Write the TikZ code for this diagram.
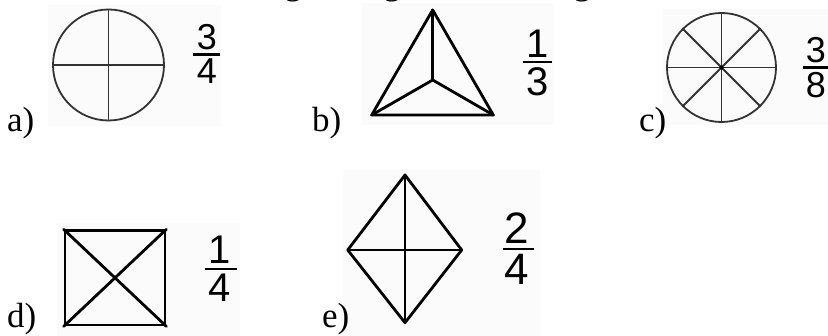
\documentclass[tikz,border=0pt]{standalone}
\usepackage{fontspec}
\setmainfont{Liberation Serif}
\newfontfamily\fracfont{Liberation Sans}
\begin{document}
\begin{tikzpicture}[x=1pt,y=-1pt,
  bgbox/.style={fill=black!1.5, draw=none},
  thin shape/.style={draw=black!80, line width=1.8pt},
  heavy shape/.style={draw=black, line width=2.8pt, line join=round, line cap=round},
  lbl/.style={font=\fontsize{35}{40}\selectfont, anchor=base west, inner sep=0pt},
  digit/.style={inner sep=0pt, font=\fracfont\fontsize{#1}{#1}\selectfont},
  fracbar/.style={draw=black, line width=2.4pt}
]
\useasboundingbox (0,0) rectangle (828,336);
\fill[white] (0,0) rectangle (828,336);

% background panels of the pictures
\fill[bgbox] (48,5) rectangle (221,126);
\fill[bgbox] (362,3) rectangle (554,125);
\fill[bgbox] (663,9) rectangle (828,125);
\fill[bgbox] (57,223) rectangle (240,336);
\fill[bgbox] (343,170) rectangle (540,336);

% cut-off line of text above
\begin{scope}
  \clip (0,0) rectangle (828,336);
  \node[lbl, anchor=base] (g1) at (293,-5) {g};
  \node[lbl, anchor=base] (g2) at (392,-5) {g};
  \node[lbl, anchor=base] (g3) at (582,-5) {g};
\end{scope}

% a) circle in quarters
\node[circle, thin shape, minimum size=111pt, inner sep=0pt] (ca) at (108.5,65) {};
\draw[thin shape] (ca.north) -- (ca.south);
\draw[thin shape] (ca.west) -- (ca.east);
\node[lbl] (la) at (7,132) {a)};
\node[digit=36, anchor=south] (anum) at (207,50) {3};
\node[digit=36, anchor=north] (aden) at (207,59) {4};
\coordinate (abl) at (193,54.5); \coordinate (abr) at (220,54.5);
\draw[fracbar] (abl) -- (abr);

% b) triangle in thirds
\coordinate (bt) at (432.7,10);
\coordinate (bl) at (371.7,115);
\coordinate (br) at (493.3,115);
\coordinate (bc) at (432.7,80);
\draw[heavy shape] (bt) -- (bl) -- (br) -- cycle;
\draw[heavy shape] (bt) -- (bc);
\draw[heavy shape] (bl) -- (bc);
\draw[heavy shape] (br) -- (bc);
\node[lbl] (lb) at (312,132) {b)};
\node[digit=40, anchor=south] (bnum) at (537.5,57.5) {1};
\node[digit=40, anchor=north] (bden) at (537.5,67) {3};
\coordinate (bbl) at (523,62); \coordinate (bbr) at (552,62);
\draw[fracbar] (bbl) -- (bbr);

% c) circle in eighths
\node[circle, thin shape, minimum size=109pt, inner sep=0pt] (cc) at (721.5,67.5) {};
\draw[thin shape] (cc.north) -- (cc.south);
\draw[thin shape] (cc.west) -- (cc.east);
\draw[thin shape] (cc.45) -- (cc.225);
\draw[thin shape] (cc.135) -- (cc.315);
\node[circle, fill=black, inner sep=0pt, minimum size=4pt] (cdot) at (cc.center) {};
\node[lbl] (lc) at (639,132) {c)};
\node[digit=36, anchor=south] (cnum) at (816,63) {3};
\node[digit=36, anchor=north] (cden) at (816,72) {8};
\coordinate (cbl) at (803,67.5); \coordinate (cbr) at (830,67.5);
\draw[fracbar] (cbl) -- (cbr);

% d) square in quarters
\node[rectangle, heavy shape, minimum width=100pt, minimum height=94.3pt, inner sep=0pt] (sq) at (115,277.85) {};
\draw[heavy shape] (sq.north west) -- (sq.south east);
\draw[heavy shape] (sq.north east) -- (sq.south west);
\node[lbl] (ld) at (7,328) {d)};
\node[digit=40, anchor=south] (dnum) at (220,264) {1};
\node[digit=40, anchor=north] (dden) at (220,274) {4};
\coordinate (dbl) at (205,269); \coordinate (dbr) at (237,269);
\draw[fracbar] (dbl) -- (dbr);

% e) diamond in quarters
\coordinate (et) at (405,175);
\coordinate (eb) at (405,322.7);
\coordinate (el) at (347.7,250);
\coordinate (er) at (461.7,250);
\draw[heavy shape] (et) -- (er) -- (eb) -- (el) -- cycle;
\draw[heavy shape] (et) -- (eb);
\draw[heavy shape] (el) -- (er);
\node[lbl] (le) at (322,328) {e)};
\node[digit=44, anchor=south] (enum) at (517,244) {2};
\node[digit=44, anchor=north] (eden) at (517,254) {4};
\coordinate (ebl) at (503,249); \coordinate (ebr) at (534,249);
\draw[fracbar] (ebl) -- (ebr);
\end{tikzpicture}
\end{document}
